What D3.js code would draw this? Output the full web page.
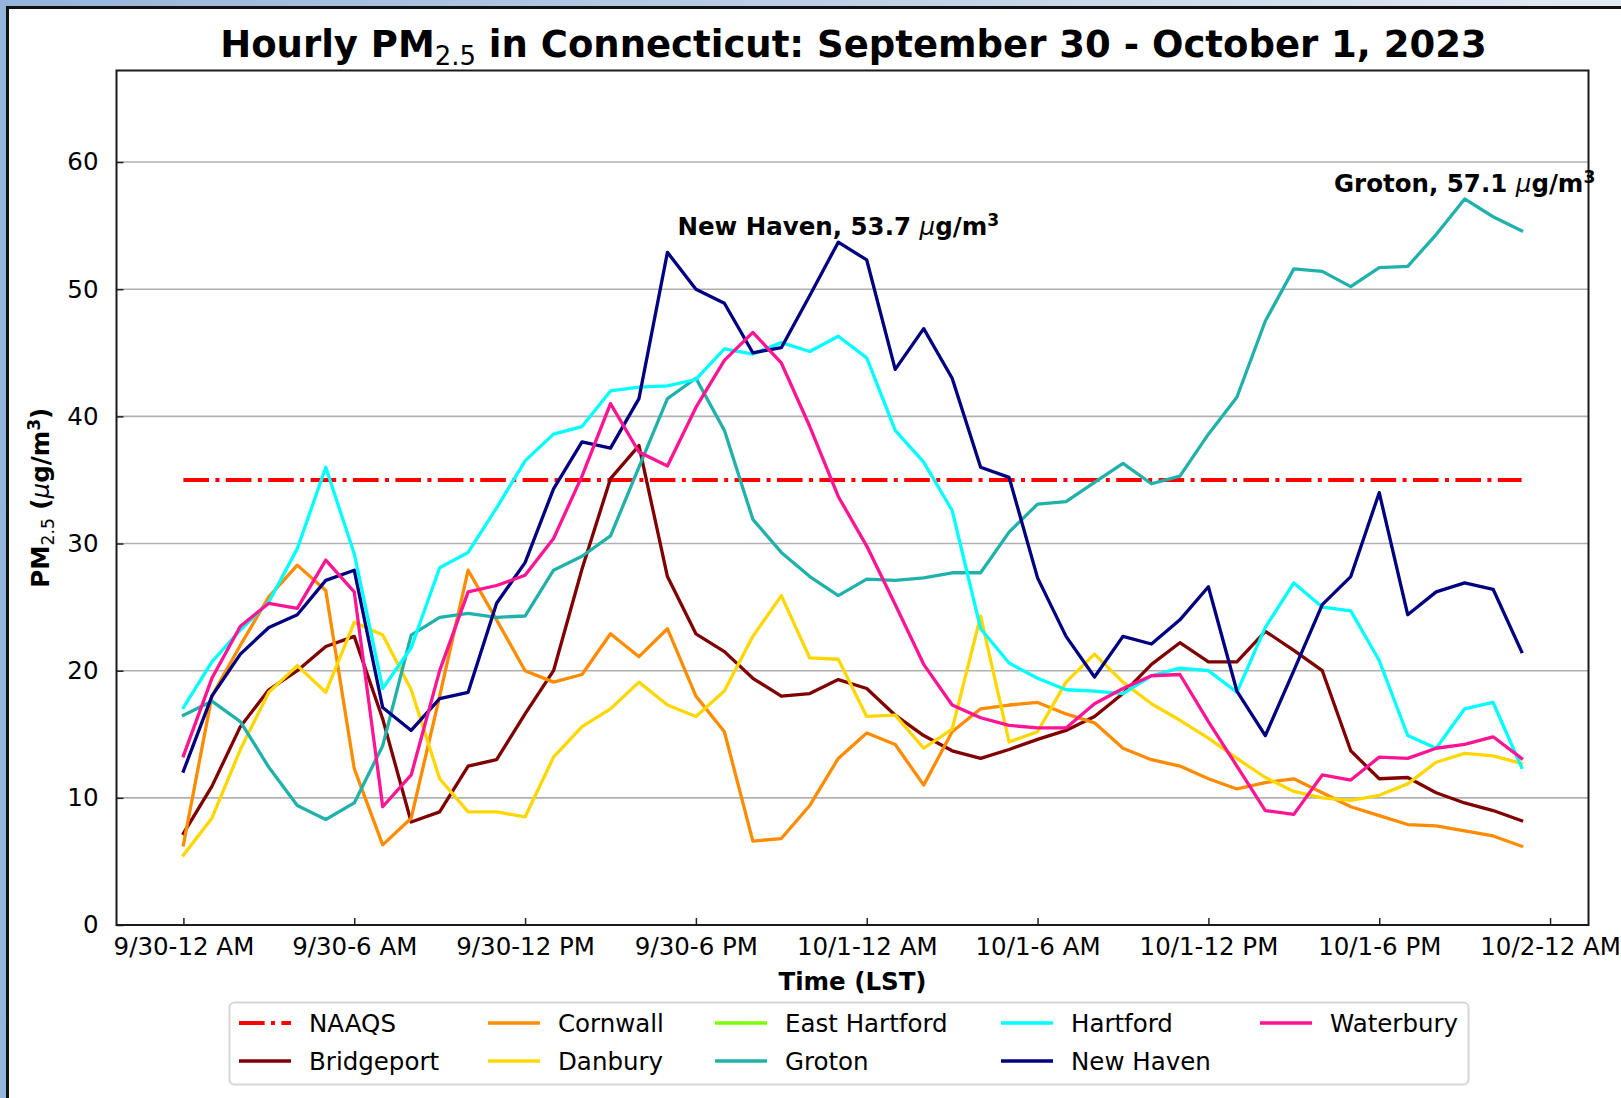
<!DOCTYPE html>
<html>
<head>
<meta charset="utf-8">
<script src="https://cdn.jsdelivr.net/npm/d3@7"></script>
<style>
  html, body { margin: 0; padding: 0; background: #fff; }
  svg { display: block; font-family: "DejaVu Sans", sans-serif; }
</style>
</head>
<body>
<svg id="chart" width="1621" height="1098"></svg>
<script>
// hours since 9/30 12 AM (LST)
const hours = [0, 1, 2, 3, 4, 5, 6, 7, 8, 9, 10, 11, 12, 13, 14, 15, 16, 17, 18, 19, 20, 21, 22, 23,
  24, 25, 26, 27, 28, 29, 30, 31, 32, 33, 34, 35, 36, 37, 38, 39, 40, 41, 42, 43, 44, 45, 46, 47];

const tickHours = [0, 6, 12, 18, 24, 30, 36, 42, 48];
const tickLabels = ['9/30-12 AM', '9/30-6 AM', '9/30-12 PM', '9/30-6 PM', '10/1-12 AM',
  '10/1-6 AM', '10/1-12 PM', '10/1-6 PM', '10/2-12 AM'];
const yTicks = [0, 10, 20, 30, 40, 50, 60];
const naaqs = 35;

const sites = ['Bridgeport', 'Cornwall', 'Danbury', 'East Hartford', 'Groton', 'Hartford', 'New Haven', 'Waterbury'];
const colors = ['#800000', '#ff8c00', '#ffd700', '#7cfc00', '#20b2aa', '#00ffff', '#000080', '#ff1493'];

const bridgeport = [7.2, 10.9, 15.6, 18.5, 20.0, 21.9, 22.7, 16.2, 8.1, 8.9, 12.5, 13.0, 16.6, 20.0, 28.0, 35.1,
  37.7, 27.4, 22.9, 21.5, 19.4, 18.0, 18.2, 19.3, 18.6, 16.5, 14.9, 13.7, 13.1, 13.8, 14.6, 15.3,
  16.4, 18.2, 20.5, 22.2, 20.7, 20.7, 23.1, 21.6, 20.0, 13.7, 11.5, 11.6, 10.4, 9.6, 9.0, 8.2];
const cornwall = [6.3, 18.0, 22.0, 25.8, 28.3, 26.3, 12.3, 6.3, 8.4, 18.0, 27.9, 24.0, 20.0, 19.1, 19.7, 22.9,
  21.1, 23.3, 18.0, 15.2, 6.6, 6.8, 9.4, 13.1, 15.1, 14.2, 11.0, 15.2, 17.0, 17.3, 17.5, 16.6,
  15.9, 13.9, 13.0, 12.5, 11.5, 10.7, 11.2, 11.5, 10.4, 9.3, 8.6, 7.9, 7.8, 7.4, 7.0, 6.2];
const danbury = [5.5, 8.4, 13.8, 18.3, 20.4, 18.3, 23.8, 22.8, 18.5, 11.5, 8.9, 8.9, 8.5, 13.2, 15.6, 17.0,
  19.1, 17.3, 16.4, 18.4, 22.7, 25.9, 21.0, 20.9, 16.4, 16.5, 13.9, 15.4, 24.3, 14.4, 15.2, 19.1,
  21.3, 19.1, 17.4, 16.1, 14.7, 13.1, 11.6, 10.5, 10.0, 9.8, 10.2, 11.1, 12.8, 13.5, 13.3, 12.7];
const eastHartford = []; // no data reported
const groton = [16.5, 17.6, 16.0, 12.4, 9.4, 8.3, 9.6, 14.1, 22.8, 24.2, 24.5, 24.2, 24.3, 27.9, 29.0, 30.6,
  36.0, 41.4, 43.0, 38.9, 31.9, 29.3, 27.4, 25.9, 27.2, 27.1, 27.3, 27.7, 27.7, 30.9, 33.1, 33.3,
  34.8, 36.3, 34.7, 35.3, 38.6, 41.5, 47.5, 51.6, 51.4, 50.2, 51.7, 51.8, 54.3, 57.1, 55.7, 54.6];
const hartford = [17.1, 20.7, 23.2, 25.4, 29.6, 36.0, 29.2, 18.6, 21.8, 28.1, 29.3, 32.8, 36.5, 38.6, 39.2, 42.0,
  42.3, 42.4, 42.9, 45.3, 44.9, 45.8, 45.1, 46.3, 44.6, 38.9, 36.4, 32.6, 23.3, 20.6, 19.4, 18.5,
  18.4, 18.2, 19.6, 20.2, 20.0, 18.3, 23.4, 26.9, 25.0, 24.7, 20.8, 14.9, 13.9, 17.0, 17.5, 12.4];
const newHaven = [12.1, 18.0, 21.3, 23.4, 24.4, 27.1, 27.9, 17.1, 15.3, 17.8, 18.3, 25.3, 28.5, 34.3, 38.0, 37.5,
  41.4, 52.9, 50.0, 48.9, 45.0, 45.4, 49.5, 53.7, 52.3, 43.7, 46.9, 43.0, 36.0, 35.2, 27.3, 22.7,
  19.5, 22.7, 22.1, 24.0, 26.6, 18.4, 14.9, 20.0, 25.2, 27.4, 34.0, 24.4, 26.2, 26.9, 26.4, 21.5];
const waterbury = [13.3, 19.4, 23.5, 25.3, 24.9, 28.7, 26.2, 9.3, 11.8, 20.0, 26.2, 26.7, 27.5, 30.4, 35.3, 41.0,
  37.2, 36.1, 40.7, 44.4, 46.6, 44.2, 39.2, 33.7, 29.8, 25.2, 20.5, 17.3, 16.3, 15.7, 15.5, 15.5,
  17.4, 18.6, 19.6, 19.7, 16.0, 12.5, 9.0, 8.7, 11.8, 11.4, 13.2, 13.1, 13.9, 14.2, 14.8, 13.1];

const values = [bridgeport, cornwall, danbury, eastHartford, groton, hartford, newHaven, waterbury];

// peaks that get a label
const peakSites = ['New Haven', 'Groton'];

const svg = d3.select('#chart');
const W = 1621, H = 1098;

// slide-like frame behind the figure
const defs = svg.append('defs');
const grad = defs.append('linearGradient').attr('id', 'frame').attr('x1', 0).attr('x2', 1).attr('y1', 0).attr('y2', 0);
grad.append('stop').attr('offset', '0%').attr('stop-color', '#95b4da');
grad.append('stop').attr('offset', '100%').attr('stop-color', '#e3eaf2');
svg.append('rect').attr('width', W).attr('height', H).attr('fill', 'url(#frame)');
svg.append('rect').attr('x', 9).attr('y', 9).attr('width', W - 9).attr('height', H - 9).attr('fill', '#fff');
svg.append('line').attr('x1', 7.5).attr('x2', 7.5).attr('y1', 6).attr('y2', H).attr('stroke', '#111').attr('stroke-width', 3);
svg.append('line').attr('x1', 6).attr('x2', W).attr('y1', 7.5).attr('y2', 7.5).attr('stroke', '#111').attr('stroke-width', 3);

const margin = { top: 70.5, left: 116.5, right: 1588.5, bottom: 925 };

const x = d3.scaleLinear().domain([-2.35, 49.35]).range([margin.left, margin.right]);
const y = d3.scaleLinear().domain([0, 67.2]).range([margin.bottom, margin.top]);

const fontSize = 24.5;

// grid
svg.append('g')
  .selectAll('line')
  .data(yTicks.filter(d => d > 0))
  .enter()
  .append('line')
  .attr('x1', margin.left).attr('x2', margin.right)
  .attr('y1', d => y(d)).attr('y2', d => y(d))
  .attr('stroke', '#b0b0b0')
  .attr('stroke-width', 1.6);

// axes, ticks pointing inward
const xAxis = svg.append('g')
  .attr('transform', 'translate(0,' + margin.bottom + ')')
  .call(d3.axisBottom(x).tickValues(tickHours).tickFormat((d, i) => tickLabels[i]).tickSizeInner(-7).tickSizeOuter(0).tickPadding(13));
const yAxis = svg.append('g')
  .attr('transform', 'translate(' + margin.left + ',0)')
  .call(d3.axisLeft(y).tickValues(yTicks).tickSizeInner(-7).tickSizeOuter(0).tickPadding(18));

[xAxis, yAxis].forEach(function(a) {
  a.select('.domain').remove();
  a.selectAll('.tick line').attr('stroke', '#222').attr('stroke-width', 1.5);
  a.selectAll('.tick text').attr('font-size', fontSize).attr('font-family', '"DejaVu Sans"').attr('fill', '#000');
});

// NAAQS line
svg.append('line')
  .attr('x1', x(hours[0])).attr('x2', x(hours[hours.length - 1]))
  .attr('y1', y(naaqs)).attr('y2', y(naaqs))
  .attr('stroke', '#ff0000')
  .attr('stroke-width', 4)
  .attr('stroke-dasharray', '25.6,6.4,4,6.4');

// site lines
const line = d3.line()
  .x(function(d) { return x(d.h); })
  .y(function(d) { return y(d.v); });

sites.forEach(function(site, i) {
  const pts = values[i].map(function(v, j) { return { h: hours[j], v: v }; });
  if (!pts.length) return;
  svg.append('path')
    .datum(pts)
    .attr('d', line)
    .attr('fill', 'none')
    .attr('stroke', colors[i])
    .attr('stroke-width', 3.3)
    .attr('stroke-linejoin', 'round')
    .attr('stroke-linecap', 'square');
});

// frame
svg.append('rect')
  .attr('x', margin.left).attr('y', margin.top)
  .attr('width', margin.right - margin.left).attr('height', margin.bottom - margin.top)
  .attr('fill', 'none').attr('stroke', '#1a1a1a').attr('stroke-width', 2);

// helper: "µg/m³" unit in mathtext style
function addUnit(t, size) {
  t.append('tspan').text('\u03bc').attr('font-style', 'italic').attr('font-weight', 'normal');
  t.append('tspan').text('g/m');
  t.append('tspan').text('3').attr('font-size', size * 0.7).attr('dy', -size * 0.38);
}

// peak labels
peakSites.forEach(function(site) {
  const i = sites.indexOf(site);
  const vals = values[i];
  const maxV = d3.max(vals);
  const j = vals.indexOf(maxV);
  const t = svg.append('text')
    .attr('x', x(hours[j]))
    .attr('y', y(maxV) - 7)
    .attr('text-anchor', 'middle')
    .attr('font-weight', 'bold')
    .attr('font-size', fontSize);
  t.append('tspan').text(site + ', ' + maxV.toFixed(1) + ' ');
  addUnit(t, fontSize);
});

// title
const title = svg.append('text')
  .attr('x', (margin.left + margin.right) / 2 + 1)
  .attr('y', 57)
  .attr('text-anchor', 'middle')
  .attr('font-weight', 'bold')
  .attr('font-size', 37);
title.append('tspan').text('Hourly PM');
title.append('tspan').text('2.5').attr('font-size', 37 * 0.7).attr('font-weight', 'normal').attr('dy', 37 * 0.22);
title.append('tspan').text(' in Connecticut: September 30 - October 1, 2023').attr('dy', -37 * 0.22);

// axis labels
svg.append('text')
  .attr('x', (margin.left + margin.right) / 2)
  .attr('y', 990)
  .attr('text-anchor', 'middle')
  .attr('font-weight', 'bold')
  .attr('font-size', fontSize)
  .text('Time (LST)');

const yl = svg.append('text')
  .attr('transform', 'translate(49,' + ((margin.top + margin.bottom) / 2) + ') rotate(-90)')
  .attr('text-anchor', 'middle')
  .attr('font-weight', 'bold')
  .attr('font-size', fontSize);
yl.append('tspan').text('PM');
yl.append('tspan').text('2.5').attr('font-size', fontSize * 0.7).attr('font-weight', 'normal').attr('dy', fontSize * 0.22);
yl.append('tspan').text(' (').attr('dy', -fontSize * 0.22);
addUnit(yl, fontSize);
yl.append('tspan').text(')').attr('dy', fontSize * 0.38);

// legend (column-major, 2 rows)
const legendNames = ['NAAQS'].concat(sites);
const legendColors = ['#ff0000'].concat(colors);
const colX = [239, 488, 715, 1001, 1260];
const rowY = [1023, 1061];

svg.append('rect')
  .attr('x', 229.5).attr('y', 1002.5)
  .attr('width', 1239).attr('height', 82)
  .attr('rx', 5)
  .attr('fill', '#fff')
  .attr('stroke', '#d6d6d6')
  .attr('stroke-width', 2);

const leg = svg.append('g')
  .selectAll('g')
  .data(legendNames)
  .enter()
  .append('g')
  .attr('transform', function(d, i) {
    return 'translate(' + colX[Math.floor(i / 2)] + ',' + rowY[i % 2] + ')';
  });

leg.append('line')
  .attr('x1', 0).attr('x2', 52)
  .attr('stroke', function(d, i) { return legendColors[i]; })
  .attr('stroke-width', function(d, i) { return i === 0 ? 4 : 3.5; })
  .attr('stroke-dasharray', function(d, i) { return i === 0 ? '25.6,6.4,4,6.4' : null; });

leg.append('text')
  .attr('x', 70)
  .attr('dy', '0.36em')
  .attr('font-size', fontSize)
  .text(function(d) { return d; });
</script>
</body>
</html>
